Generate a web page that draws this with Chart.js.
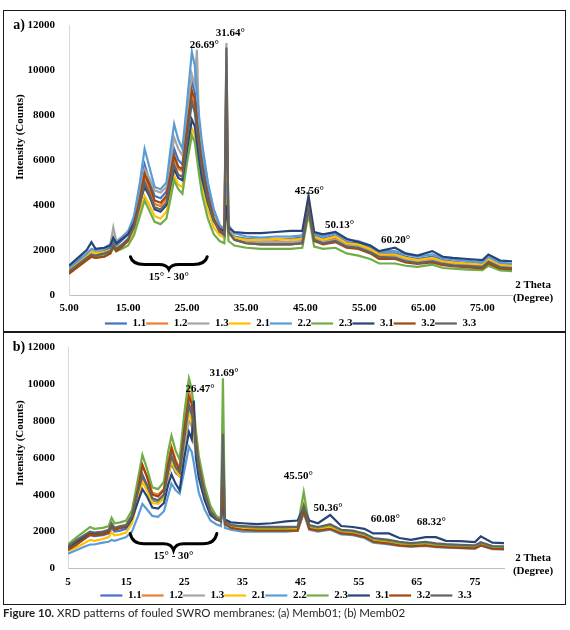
<!DOCTYPE html>
<html>
<head>
<meta charset="utf-8">
<script src="https://cdn.jsdelivr.net/npm/chart.js@4/dist/chart.umd.min.js"></script>
<style>
  body { margin: 0; background: #fff; }
  #fig { position: relative; width: 570px; height: 630px; }
  .box { position: absolute; border: 1.3px solid #1a1a1a; box-sizing: border-box; }
  .cv { position: absolute; }
  .cap { position: absolute; left: 3px; top: 606px; font: 11.5px Lato, sans-serif; color: #231f20; white-space: nowrap; }
  .cap b { font-weight: 700; }
</style>
</head>
<body>
<div id="fig">
  <div class="box" style="left:3px;top:10px;width:563px;height:323px"></div>
  <div class="box" style="left:3px;top:331px;width:563px;height:274px"></div>
  <div class="cv" style="left:3px;top:12px;width:562px;height:327px"><canvas id="chartA"></canvas></div>
  <div class="cv" style="left:3px;top:333px;width:562px;height:278px"><canvas id="chartB"></canvas></div>
  <div class="cap"><b>Figure 10.</b> XRD patterns of fouled SWRO membranes: (a) Memb01; (b) Memb02</div>
</div>
<script>
// 2 theta positions (degree) shared by both patterns
const theta = [5, 6.5, 8, 8.8, 9.5, 11, 12, 12.5, 13, 14,
  15, 16, 17, 17.8, 18.6, 19.5, 20.5, 21.5, 22.2, 22.8,
  23.5, 24.2, 25, 25.8, 26.3, 26.65, 27, 27.5, 28.5, 29.5,
  30.5, 31.3, 31.65, 32, 33, 35, 37.5, 40, 42.5, 44.5,
  45.55, 46.5, 48, 50.1, 52, 54, 56, 57.5, 60.2, 62,
  64, 66.5, 68.3, 70, 72.5, 75, 76, 78, 80];

const seriesNames = ['1.1', '1.2', '1.3', '2.1', '2.2', '2.3', '3.1', '3.2', '3.3'];
const seriesColors = ['#4472C4', '#ED7D31', '#A5A5A5', '#FFC000', '#5B9BD5', '#70AD47', '#264478', '#9E480E', '#636363'];

const yTicks = [0, 2000, 4000, 6000, 8000, 10000, 12000];
const xTicks = [5, 15, 25, 35, 45, 55, 65, 75];

// (a) Memb01 intensities (counts)
const a11 = [1150,1450,1800,1950,1900,2000,2100,2450,2200,2450,
  2700,3300,4600,5800,5100,4400,4300,4600,5700,6500,
  6000,5800,7700,9500,9000,8100,7300,6200,4700,3700,
  3100,2850,4500,2950,2600,2500,2450,2500,2500,2550,
  4000,2650,2500,2650,2350,2300,2100,1850,1850,1700,
  1600,1700,1550,1480,1420,1380,1600,1350,1320];
const a12 = [950,1250,1550,1700,1650,1750,1900,2200,2000,2200,
  2450,3050,4200,5200,4700,4050,3950,4300,5300,6100,
  5600,5500,7200,8800,8400,7500,6800,5700,4300,3400,
  2900,2700,10600,2850,2500,2400,2350,2400,2350,2400,
  4300,2550,2400,2500,2250,2200,2000,1750,1750,1600,
  1500,1600,1450,1400,1350,1300,1550,1300,1250];
const a13 = [1050,1400,1750,1900,1900,2050,2250,3000,2400,2600,
  2850,3400,4600,5600,5200,4650,4550,4800,6000,7000,
  6500,6200,8000,9800,9300,10900,7700,6600,5000,3800,
  3100,2950,11200,3000,2550,2400,2350,2350,2350,2400,
  3700,2500,2350,2450,2200,2150,1950,1700,1700,1550,
  1450,1550,1400,1350,1300,1270,1450,1250,1220];
const a21 = [1100,1400,1700,1950,1850,1900,2000,2250,2100,2250,
  2400,2800,3700,4400,4000,3500,3400,3700,4600,5300,
  4900,4800,6200,7400,7100,6400,5800,4900,3800,3000,
  2650,2550,5400,2700,2550,2450,2450,2500,2450,2500,
  4100,2600,2450,2600,2300,2250,2050,1800,1800,1650,
  1550,1650,1500,1450,1400,1350,1600,1350,1300];
const a22 = [1200,1550,1850,2050,2000,2100,2250,2500,2300,2550,
  2800,3500,5000,6500,5700,4800,4700,5000,6500,7600,
  6900,6500,8600,10800,10200,9000,8000,6800,5000,3800,
  3100,2900,5000,3100,2750,2600,2550,2600,2600,2650,
  4100,2750,2600,2750,2450,2400,2200,1950,1950,1800,
  1700,1800,1650,1580,1520,1450,1700,1430,1400];
const a23 = [1050,1300,1600,1750,1700,1750,1850,2100,1950,2050,
  2200,2650,3500,4200,3750,3250,3150,3400,4300,5100,
  4700,4500,5900,7100,6800,6100,5400,4500,3400,2700,
  2400,2300,4300,2400,2200,2100,2050,2050,2050,2100,
  3600,2150,2050,2100,1850,1750,1600,1400,1400,1300,
  1250,1350,1200,1170,1130,1110,1300,1090,1060];
const a31 = [1300,1650,2000,2350,2050,2100,2200,2550,2300,2500,
  2700,3200,4100,4800,4400,3800,3700,4000,4900,5600,
  5200,5100,6500,7800,7500,6800,6100,5200,4100,3300,
  2950,2850,4000,3000,2800,2750,2750,2800,2850,2850,
  4400,2800,2700,2800,2500,2350,2200,1950,2100,1850,
  1750,1950,1700,1650,1600,1550,1800,1530,1500];
const a32 = [950,1250,1550,1700,1650,1700,1850,2150,1950,2150,
  2400,3100,4300,5400,4900,4200,4100,4400,5400,6200,
  5700,5600,7400,9100,8700,7700,6900,5800,4400,3400,
  2900,2700,9800,2800,2450,2300,2250,2250,2250,2300,
  3900,2400,2250,2350,2100,2050,1850,1600,1600,1450,
  1380,1450,1330,1280,1230,1180,1400,1170,1150];
const a33 = [1050,1350,1650,1800,1750,1850,1950,2250,2050,2250,
  2500,3000,4000,5000,4500,3900,3800,4100,5000,5800,
  5350,5250,6900,8600,8100,7300,6600,5600,4200,3300,
  2800,2650,11000,2800,2450,2300,2250,2250,2250,2300,
  3800,2450,2300,2400,2150,2100,1900,1700,1650,1500,
  1420,1500,1380,1320,1280,1250,1480,1230,1200];

// (b) Memb02 intensities (counts)
const b11 = [1050,1350,1650,1800,1750,1800,1900,2200,2000,2050,
  2150,2600,3900,5100,4500,3700,3600,3900,5000,5700,
  5200,5000,6900,8700,8300,7500,6600,5400,4000,3100,
  2700,2600,4200,2500,2300,2200,2150,2150,2150,2150,
  3100,2250,2150,2300,2000,1950,1800,1550,1450,1350,
  1300,1350,1280,1250,1220,1180,1350,1150,1130];
const b12 = [1000,1350,1700,1900,1850,1900,2000,2400,2150,2250,
  2350,2900,4300,5600,5000,4100,4000,4300,5700,6600,
  5900,5400,7700,9600,9100,8100,7000,5700,4100,3100,
  2700,2550,4800,2450,2250,2150,2100,2100,2100,2100,
  3200,2200,2100,2200,1950,1900,1750,1500,1400,1300,
  1250,1300,1230,1200,1170,1130,1300,1100,1080];
const b13 = [1150,1500,1800,1950,1900,1950,2050,2400,2150,2250,
  2300,2800,4000,4900,4400,3750,3650,3950,5100,5900,
  5400,5200,6700,8000,7700,7000,6300,5200,3900,3000,
  2650,2550,5000,2500,2300,2250,2200,2200,2200,2200,
  3300,2300,2200,2350,2050,2000,1850,1600,1500,1400,
  1330,1400,1320,1280,1250,1200,1380,1180,1150];
const b21 = [950,1150,1400,1550,1500,1600,1700,1950,1800,1850,
  1950,2450,3700,4700,4200,3550,3500,3800,5000,5800,
  5300,5000,6900,8400,8000,7300,6400,5300,3900,3000,
  2650,2550,6400,2500,2250,2150,2150,2150,2150,2150,
  3500,2250,2150,2250,2000,1950,1800,1550,1450,1350,
  1280,1350,1270,1230,1200,1160,1330,1140,1110];
const b22 = [800,1000,1200,1300,1300,1400,1450,1550,1500,1600,
  1700,2000,2800,3500,3200,2850,2800,3100,3900,4600,
  4250,4050,5300,6600,6300,5700,5000,4100,3200,2600,
  2400,2300,4000,2200,2100,2000,2000,2000,2000,2050,
  3000,2100,2000,2100,1850,1800,1650,1400,1300,1220,
  1180,1230,1160,1130,1100,1070,1250,1050,1030];
const b23 = [1300,1700,2050,2250,2150,2200,2300,2750,2450,2500,
  2600,3150,4800,6150,5400,4400,4300,4700,6300,7200,
  6400,5900,8400,10300,9700,8600,7500,6100,4500,3400,
  2850,2700,10300,2600,2350,2250,2200,2200,2200,2250,
  4150,2300,2200,2350,2050,2000,1850,1600,1500,1400,
  1320,1400,1300,1270,1230,1200,1380,1170,1150];
const b31 = [1150,1450,1750,1950,1900,1950,2050,2350,2150,2200,
  2250,2700,3600,4300,3900,3300,3250,3550,4500,5100,
  4600,4250,6000,7400,7000,9100,6000,4900,3700,2900,
  2650,2600,3600,2650,2500,2450,2400,2450,2550,2600,
  3300,2600,2450,2900,2300,2250,2150,1900,1900,1650,
  1550,1700,1700,1500,1480,1430,1740,1400,1380];
const b32 = [1000,1300,1650,1850,1800,1850,1950,2350,2100,2200,
  2300,2850,4250,5600,4950,4000,3900,4250,5600,6500,
  5800,5300,7500,9300,8900,7900,6900,5600,4100,3100,
  2700,2550,4500,2400,2200,2100,2050,2050,2050,2050,
  3100,2150,2050,2150,1900,1850,1700,1450,1350,1250,
  1200,1250,1180,1150,1120,1090,1250,1070,1050];
const b33 = [1200,1550,1850,2000,1950,2000,2100,2450,2200,2300,
  2350,2850,4100,5000,4500,3800,3700,4000,5200,6100,
  5500,5200,7000,8900,8500,7600,6700,5400,4000,3100,
  2700,2600,7300,2550,2350,2300,2250,2250,2250,2250,
  3400,2350,2250,2400,2100,2050,1900,1650,1550,1450,
  1380,1450,1360,1320,1280,1250,1420,1220,1200];

const serif = '"Liberation Serif", "Times New Roman", serif';

function makeDatasets(list) {
  return list.map((vals, i) => ({
    label: seriesNames[i],
    data: vals.map((v, k) => ({ x: theta[k], y: v })),
    borderColor: seriesColors[i],
    backgroundColor: seriesColors[i],
    borderWidth: 2.2,
    pointRadius: 0,
    tension: 0,
    fill: false,
    order: 8 - i
  }));
}

function brace(ctx, x1, x2, yTop, yTip) {
  const xm = (x1 + x2) / 2;
  const yb = yTop + (yTip - yTop) * 0.62;
  ctx.beginPath();
  ctx.moveTo(x1, yTop);
  ctx.quadraticCurveTo(x1 + 2, yb, x1 + 14, yb);
  ctx.lineTo(xm - 10, yb);
  ctx.quadraticCurveTo(xm - 2, yb, xm, yTip);
  ctx.quadraticCurveTo(xm + 2, yb, xm + 10, yb);
  ctx.lineTo(x2 - 14, yb);
  ctx.quadraticCurveTo(x2 - 2, yb, x2, yTop);
  ctx.lineWidth = 3;
  ctx.lineCap = 'round';
  ctx.strokeStyle = '#000';
  ctx.stroke();
}

const annotations = {
  id: 'annotations',
  afterDraw(chart, args, o) {
    const { ctx, scales: { x, y } } = chart;
    ctx.save();
    ctx.fillStyle = '#000';
    ctx.textAlign = 'center';
    ctx.textBaseline = 'middle';
    ctx.font = 'bold 11px ' + serif;
    o.peaks.forEach(p => ctx.fillText(p.t, x.getPixelForValue(p.x), y.getPixelForValue(p.y)));
    const b = o.brace;
    brace(ctx, x.getPixelForValue(b.x1), x.getPixelForValue(b.x2), y.getPixelForValue(b.yTop), y.getPixelForValue(b.yTip));
    ctx.fillText('15° - 30°', x.getPixelForValue((b.x1 + b.x2) / 2), y.getPixelForValue(b.yText));
    ctx.fillText('2 Theta', o.xTitle[0], o.xTitle[1]);
    ctx.fillText('(Degree)', o.xTitle[0], o.xTitle[1] + 13);
    ctx.font = 'bold 14px ' + serif;
    ctx.fillText(o.tag, o.tagPos[0], o.tagPos[1]);
    ctx.font = 'bold 11px ' + serif;
    ctx.translate(o.yTitle[0], o.yTitle[1]);
    ctx.rotate(-Math.PI / 2);
    ctx.fillText('Intensity (Counts)', 0, 0);
    ctx.restore();
  }
};

function makeChart(id, list, cfg) {
  return new Chart(document.getElementById(id), {
    type: 'line',
    data: { datasets: makeDatasets(list) },
    plugins: [annotations],
    options: {
      responsive: true,
      maintainAspectRatio: false,
      animation: false,
      layout: { padding: { top: cfg.padTop, right: cfg.padRight, bottom: 0, left: 0 } },
      scales: {
        x: {
          type: 'linear', min: 5, max: 80,
          grid: { display: false },
          border: { display: true, color: '#bfbfbf', width: 1 },
          afterBuildTicks: s => { s.ticks = xTicks.map(v => ({ value: v })); },
          afterFit: s => { s.height = cfg.xHeight; },
          ticks: {
            padding: -1, color: '#000', maxRotation: 0,
            font: { family: serif, size: 11, weight: 'bold' },
            callback: v => cfg.xFmt(v)
          }
        },
        y: {
          min: 0, max: 12000,
          grid: { display: false },
          border: { display: true, color: '#d9d9d9', width: 1 },
          afterBuildTicks: s => { s.ticks = yTicks.map(v => ({ value: v })); },
          afterFit: s => { s.width = cfg.yWidth; },
          ticks: {
            padding: cfg.yWidth - 60, color: '#000',
            font: { family: serif, size: 11, weight: 'bold' },
            callback: v => String(v)
          }
        }
      },
      plugins: {
        tooltip: { enabled: false },
        legend: {
          position: 'bottom',
          fullSize: false,
          labels: {
            usePointStyle: true, pointStyle: 'line', pointStyleWidth: 22,
            padding: 0, color: '#000',
            font: { family: serif, size: 11, weight: 'bold' },
            sort: (a, b) => a.datasetIndex - b.datasetIndex
          }
        },
        annotations: cfg.ann
      }
    }
  });
}

makeChart('chartA', [a11, a12, a13, a21, a22, a23, a31, a32, a33], {
  padTop: 13, padRight: 53, xHeight: 23, yWidth: 66,
  xFmt: v => v.toFixed(2),
  ann: {
    tag: 'a)', tagPos: [16, 13], yTitle: [17, 125], xTitle: [530, 273],
    peaks: [
      { t: '26.69°', x: 27.9, y: 11100 },
      { t: '31.64°', x: 32.3, y: 11640 },
      { t: '45.56°', x: 45.7, y: 4620 },
      { t: '50.13°', x: 50.8, y: 3110 },
      { t: '60.20°', x: 60.3, y: 2440 }
    ],
    brace: { x1: 15.4, x2: 28.4, yTop: 1700, yTip: 1150, yText: 800 }
  }
});

makeChart('chartB', [b11, b12, b13, b21, b22, b23, b31, b32, b33], {
  padTop: 14, padRight: 61, xHeight: 21.5, yWidth: 65,
  xFmt: v => String(v),
  ann: {
    tag: 'b)', tagPos: [16, 14], yTitle: [17, 110], xTitle: [530, 225],
    peaks: [
      { t: '31.69°', x: 31.85, y: 10590 },
      { t: '26.47°', x: 27.7, y: 9720 },
      { t: '45.50°', x: 44.6, y: 4990 },
      { t: '50.36°', x: 49.75, y: 3260 },
      { t: '60.08°', x: 59.6, y: 2660 },
      { t: '68.32°', x: 67.5, y: 2500 }
    ],
    brace: { x1: 15.7, x2: 30.6, yTop: 1900, yTip: 1000, yText: 680 }
  }
});
</script>
</body>
</html>
